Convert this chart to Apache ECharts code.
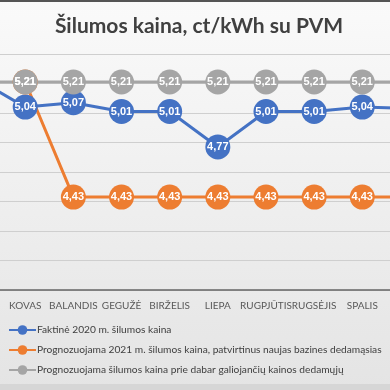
<!DOCTYPE html>
<html>
<head>
<meta charset="utf-8">
<script src="https://cdn.jsdelivr.net/npm/echarts@6/dist/echarts.min.js"></script>
<style>
html,body{margin:0;padding:0;width:390px;height:390px;overflow:hidden;background:#eeeeee;}
#c{position:absolute;left:-60px;top:0;width:510px;height:390px;}
</style>
</head>
<body>
<div id="c"></div>
<script>
const categories = ['VASARIS','KOVAS','BALANDIS','GEGUŽĖ','BIRŽELIS','LIEPA','RUGPJŪTIS','RUGSĖJIS','SPALIS','LAPKRITIS'];
const actual2020 = [5.23, 5.04, 5.07, 5.01, 5.01, 4.77, 5.01, 5.01, 5.04, 5.03];
const forecast2021 = [null, 5.21, 4.43, 4.43, 4.43, 4.43, 4.43, 4.43, 4.43, 4.43];
const forecastCurrent = [5.21, 5.21, 5.21, 5.21, 5.21, 5.21, 5.21, 5.21, 5.21, 5.21];
const seriesNames = [
  'Faktinė 2020 m. šilumos kaina',
  'Prognozuojama 2021 m. šilumos kaina, patvirtinus naujas bazines dedamąsias',
  'Prognozuojama šilumos kaina prie dabar galiojančių kainos dedamųjų'
];
const colors = ['#4472C4', '#ED7D31', '#A5A5A5'];
const OFF = 60;

const chart = echarts.init(document.getElementById('c'), null, {renderer: 'canvas'});
function mk(i, data) {
  return {
    name: seriesNames[i], type: 'line', data: data,
    symbol: 'circle', symbolSize: 25,
    lineStyle: {width: 3, color: colors[i]},
    itemStyle: {color: colors[i]},
    label: {
      show: true, position: 'inside', color: '#ffffff',
      fontFamily: 'Liberation Sans', fontWeight: 'bold', fontSize: 11,
      formatter: p => p.value == null ? '' : p.value.toFixed(2).replace('.', ',')
    },
    emphasis: {disabled: true},
    animation: false
  };
}
chart.setOption({
  backgroundColor: {type: 'linear', x: 0, y: 0, x2: 0, y2: 1, colorStops: [
    {offset: 0, color: '#fafafa'}, {offset: 1, color: '#e4e4e4'}]},
  color: colors,
  title: {
    text: 'Šilumos kaina, ct/kWh su PVM', left: OFF + 194, textAlign: 'center', top: 11,
    textStyle: {fontFamily: 'Lato', fontWeight: 'bold', fontSize: 21, color: '#404040'}
  },
  graphic: [
    {type: 'rect', shape: {x: 0, y: 0, width: 510, height: 2}, style: {fill: '#555555'}},
    {type: 'rect', shape: {x: 0, y: 384, width: 510, height: 6}, style: {fill: '#d6d6d6'}}
  ],
  legend: {
    orient: 'vertical', left: OFF + 3, top: 320, itemGap: 10, itemWidth: 27, itemHeight: 12,
    textStyle: {fontFamily: 'Lato', fontSize: 10.2, color: '#404040', padding: [0,0,0,-4]},
    data: seriesNames
  },
  grid: {left: 13, top: 54, width: 481.5, height: 236},
  xAxis: {
    type: 'category', data: categories, boundaryGap: true,
    axisLine: {lineStyle: {color: '#666666', width: 1.5}},
    axisTick: {show: false},
    axisLabel: {color: '#595959', fontFamily: 'Lato', fontSize: 10, margin: 11, interval: 0,
      formatter: (v, i) => i === categories.length - 1 ? '' : v}
  },
  yAxis: {
    type: 'value', min: 3.8, max: 5.4, interval: 0.2,
    axisLabel: {show: false}, axisLine: {show: false}, axisTick: {show: false},
    splitLine: {lineStyle: {color: '#cfcfcf', width: 1}}
  },
  series: [mk(0, actual2020), mk(1, forecast2021), mk(2, forecastCurrent)]
});
</script>
</body>
</html>
